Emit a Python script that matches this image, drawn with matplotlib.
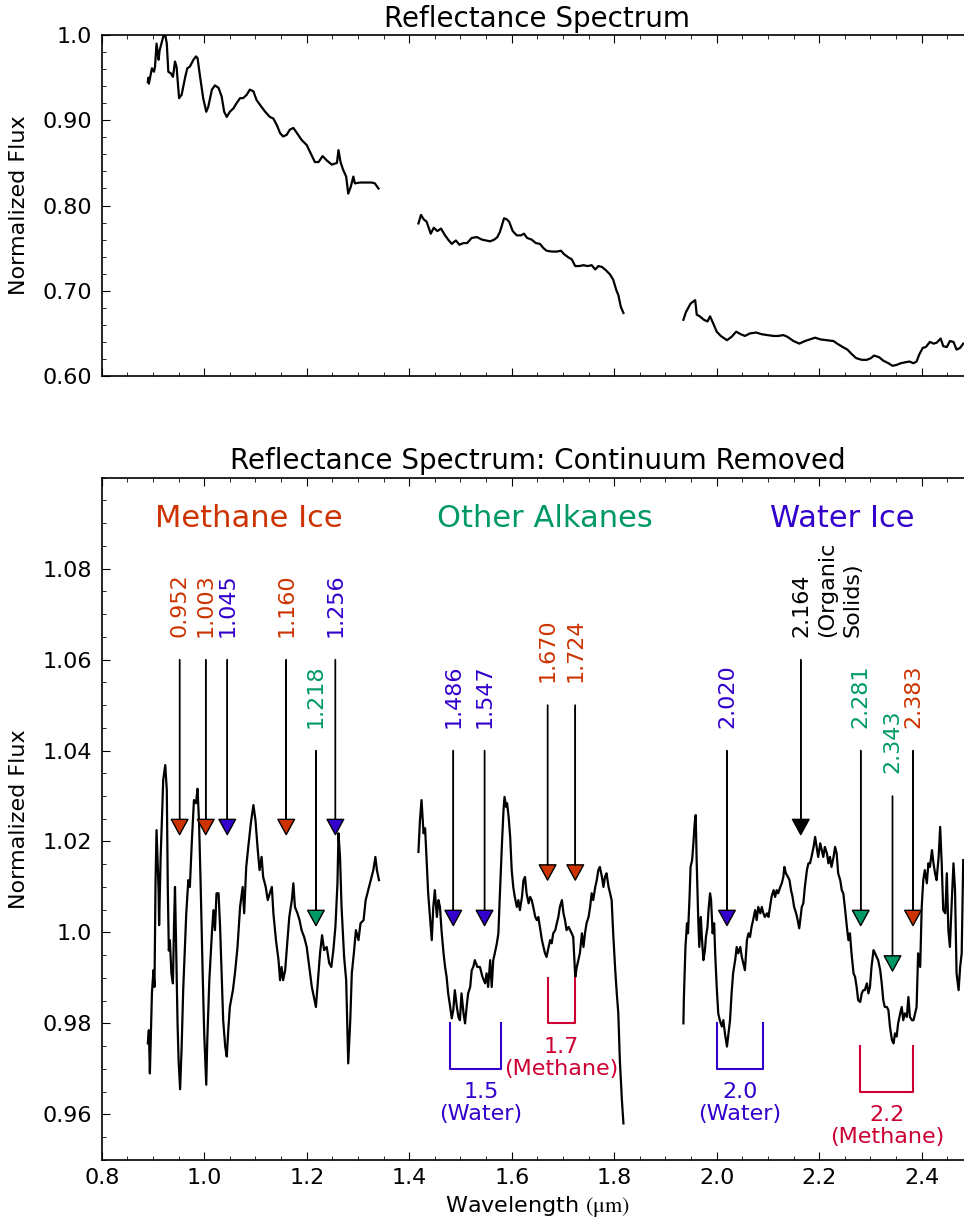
import matplotlib
matplotlib.use("Agg")
import matplotlib.pyplot as plt
from matplotlib.ticker import FixedLocator, FixedFormatter, MultipleLocator
from matplotlib.transforms import offset_copy


METHANE = "#cc3300"
ALKANE = "#009966"
WATER = "#3300cc"
METHANE_BAND = "#cc0033"
ORGANIC = "black"

# ---- raw reflectance spectrum (three windows) ----
RAW_WL_1 = [
    0.890, 0.891, 0.892, 0.898, 0.902, 0.904, 0.907, 0.911, 0.913, 0.920,
    0.924, 0.927, 0.930, 0.935, 0.939, 0.943, 0.946, 0.951, 0.956, 0.963,
    0.967, 0.972, 0.979, 0.984, 0.987, 0.992, 0.998, 1.004, 1.008, 1.015,
    1.021, 1.028, 1.034, 1.039, 1.044, 1.050, 1.057, 1.063, 1.070, 1.076,
    1.083, 1.089, 1.096, 1.102, 1.109, 1.119, 1.128, 1.135, 1.142, 1.148,
    1.154, 1.161, 1.167, 1.174, 1.181, 1.190, 1.200, 1.208, 1.216, 1.223,
    1.231, 1.239, 1.249, 1.259, 1.262, 1.266, 1.271, 1.277, 1.281, 1.286,
    1.291, 1.294, 1.304, 1.317, 1.327, 1.333, 1.340,
]
RAW_FLUX_1 = [
    0.945, 0.950, 0.943, 0.961, 0.957, 0.963, 0.990, 0.971, 0.982, 0.998,
    1.000, 0.990, 0.957, 0.955, 0.951, 0.969, 0.963, 0.926, 0.930, 0.951,
    0.961, 0.963, 0.971, 0.975, 0.973, 0.951, 0.926, 0.910, 0.916, 0.936,
    0.941, 0.938, 0.928, 0.910, 0.904, 0.910, 0.914, 0.920, 0.926, 0.926,
    0.930, 0.936, 0.934, 0.924, 0.918, 0.910, 0.904, 0.902, 0.894, 0.885,
    0.881, 0.883, 0.889, 0.891, 0.885, 0.877, 0.871, 0.861, 0.851, 0.851,
    0.858, 0.853, 0.848, 0.850, 0.865, 0.851, 0.842, 0.834, 0.814, 0.822,
    0.834, 0.826, 0.827, 0.827, 0.827, 0.826, 0.820,
]
RAW_WL_2 = [
    1.418, 1.423, 1.428, 1.434, 1.442, 1.448, 1.455, 1.462, 1.470, 1.476,
    1.483, 1.491, 1.498, 1.506, 1.513, 1.522, 1.532, 1.542, 1.550, 1.558,
    1.566, 1.572, 1.577, 1.582, 1.585, 1.590, 1.595, 1.602, 1.610, 1.618,
    1.624, 1.630, 1.639, 1.647, 1.655, 1.662, 1.668, 1.678, 1.688, 1.696,
    1.702, 1.711, 1.717, 1.724, 1.732, 1.740, 1.748, 1.756, 1.763, 1.769,
    1.776, 1.784, 1.792, 1.798, 1.804, 1.808, 1.813, 1.818,
]
RAW_FLUX_2 = [
    0.779, 0.789, 0.784, 0.781, 0.767, 0.774, 0.770, 0.773, 0.765, 0.760,
    0.755, 0.759, 0.754, 0.756, 0.756, 0.762, 0.763, 0.760, 0.759, 0.758,
    0.760, 0.763, 0.769, 0.779, 0.785, 0.784, 0.781, 0.770, 0.765, 0.765,
    0.767, 0.762, 0.760, 0.756, 0.755, 0.750, 0.747, 0.746, 0.746, 0.747,
    0.743, 0.739, 0.737, 0.729, 0.729, 0.730, 0.729, 0.730, 0.725, 0.729,
    0.728, 0.724, 0.719, 0.713, 0.701, 0.695, 0.681, 0.674,
]
RAW_WL_3 = [
    1.935, 1.940, 1.949, 1.958, 1.961, 1.967, 1.975, 1.982, 1.987, 1.993,
    2.000, 2.008, 2.020, 2.029, 2.038, 2.047, 2.055, 2.065, 2.077, 2.088,
    2.099, 2.111, 2.120, 2.130, 2.138, 2.150, 2.161, 2.172, 2.182, 2.192,
    2.202, 2.215, 2.228, 2.235, 2.246, 2.255, 2.263, 2.272, 2.283, 2.293,
    2.301, 2.307, 2.317, 2.325, 2.335, 2.343, 2.351, 2.359, 2.367, 2.376,
    2.384, 2.390, 2.395, 2.402, 2.408, 2.416, 2.423, 2.429, 2.437, 2.442,
    2.449, 2.455, 2.462, 2.468, 2.475, 2.481,
]
RAW_FLUX_3 = [
    0.666, 0.675, 0.685, 0.689, 0.672, 0.670, 0.666, 0.664, 0.670, 0.662,
    0.652, 0.647, 0.642, 0.646, 0.652, 0.649, 0.647, 0.650, 0.651, 0.649,
    0.648, 0.647, 0.647, 0.648, 0.646, 0.641, 0.638, 0.641, 0.643, 0.645,
    0.643, 0.642, 0.641, 0.638, 0.634, 0.631, 0.626, 0.621, 0.619, 0.619,
    0.621, 0.624, 0.622, 0.618, 0.615, 0.612, 0.613, 0.615, 0.616, 0.617,
    0.615, 0.617, 0.625, 0.633, 0.634, 0.640, 0.638, 0.639, 0.644, 0.635,
    0.634, 0.641, 0.640, 0.631, 0.633, 0.638,
]

# ---- continuum-removed spectrum ----
CR_WL_1 = [
    0.890, 0.892, 0.894, 0.898, 0.901, 0.903, 0.905, 0.907, 0.911, 0.912,
    0.915, 0.918, 0.920, 0.924, 0.927, 0.929, 0.931, 0.933, 0.936, 0.939,
    0.941, 0.943, 0.945, 0.948, 0.950, 0.953, 0.956, 0.959, 0.965, 0.969,
    0.972, 0.976, 0.980, 0.984, 0.987, 0.990, 0.993, 0.997, 1.000, 1.004,
    1.006, 1.010, 1.015, 1.018, 1.021, 1.024, 1.028, 1.031, 1.034, 1.037,
    1.041, 1.044, 1.047, 1.050, 1.056, 1.060, 1.065, 1.070, 1.075, 1.078,
    1.082, 1.086, 1.091, 1.096, 1.100, 1.104, 1.108, 1.112, 1.115, 1.120,
    1.124, 1.128, 1.132, 1.135, 1.140, 1.145, 1.148, 1.151, 1.154, 1.158,
    1.162, 1.166, 1.171, 1.174, 1.177, 1.182, 1.186, 1.190, 1.195, 1.200,
    1.205, 1.210, 1.214, 1.218, 1.223, 1.226, 1.230, 1.234, 1.239, 1.244,
    1.248, 1.252, 1.256, 1.260, 1.262, 1.265, 1.268, 1.273, 1.277, 1.281,
    1.285, 1.288, 1.292, 1.296, 1.301, 1.305, 1.311, 1.315, 1.320, 1.325,
    1.330, 1.334, 1.337, 1.341,
]
CR_FLUX_1 = [
    0.9756, 0.9785, 0.9690, 0.9866, 0.9917, 0.9880, 1.0108, 1.0225, 1.0093, 1.0016,
    1.0166, 1.0265, 1.0335, 1.0368, 1.0313, 1.0093, 0.9960, 0.9983, 0.9910, 0.9888,
    1.0012, 1.0100, 0.9983, 0.9800, 0.9719, 0.9655, 0.9749, 0.9873, 1.0042, 1.0115,
    1.0100, 1.0203, 1.0291, 1.0284, 1.0316, 1.0240, 1.0108, 0.9910, 0.9778, 0.9665,
    0.9763, 0.9895, 0.9998, 1.0049, 1.0005, 1.0086, 1.0086, 1.0012, 0.9910, 0.9807,
    0.9749, 0.9727, 0.9785, 0.9836, 0.9873, 0.9910, 0.9968, 1.0056, 1.0100, 1.0042,
    1.0144, 1.0188, 1.0240, 1.0280, 1.0247, 1.0188, 1.0137, 1.0166, 1.0122, 1.0100,
    1.0071, 1.0086, 1.0100, 1.0042, 0.9983, 0.9939, 0.9895, 0.9924, 0.9895, 0.9917,
    0.9976, 1.0034, 1.0071, 1.0108, 1.0056, 1.0042, 1.0027, 1.0005, 0.9990, 0.9968,
    0.9924, 0.9880, 0.9858, 0.9836, 0.9910, 0.9954, 0.9994, 0.9961, 0.9968, 0.9932,
    0.9924, 0.9961, 1.0012, 1.0108, 1.0218, 1.0166, 1.0056, 0.9946, 0.9895, 0.9712,
    0.9807, 0.9910, 0.9954, 1.0005, 0.9983, 1.0020, 1.0027, 1.0071, 1.0093, 1.0115,
    1.0137, 1.0166, 1.0137, 1.0115,
]
CR_WL_2 = [
    1.418, 1.421, 1.424, 1.428, 1.431, 1.434, 1.437, 1.441, 1.444, 1.447,
    1.450, 1.454, 1.457, 1.460, 1.463, 1.467, 1.470, 1.473, 1.476, 1.480,
    1.483, 1.486, 1.489, 1.493, 1.496, 1.499, 1.502, 1.506, 1.509, 1.512,
    1.515, 1.519, 1.522, 1.525, 1.528, 1.533, 1.538, 1.543, 1.548, 1.551,
    1.554, 1.558, 1.561, 1.564, 1.567, 1.571, 1.574, 1.577, 1.581, 1.584,
    1.586, 1.589, 1.591, 1.594, 1.597, 1.600, 1.603, 1.606, 1.610, 1.613,
    1.616, 1.620, 1.623, 1.626, 1.629, 1.633, 1.636, 1.639, 1.642, 1.646,
    1.649, 1.652, 1.655, 1.659, 1.662, 1.665, 1.668, 1.672, 1.675, 1.678,
    1.681, 1.685, 1.688, 1.691, 1.694, 1.698, 1.701, 1.704, 1.707, 1.711,
    1.714, 1.717, 1.720, 1.724, 1.727, 1.730, 1.733, 1.737, 1.740, 1.743,
    1.746, 1.750, 1.753, 1.756, 1.759, 1.763, 1.766, 1.769, 1.772, 1.776,
    1.779, 1.782, 1.785, 1.789, 1.792, 1.795, 1.798, 1.802, 1.805, 1.808,
    1.811, 1.815, 1.818,
]
CR_FLUX_2 = [
    1.0177, 1.0247, 1.0291, 1.0218, 1.0229, 1.0159, 1.0086, 1.0027, 0.9983, 1.0056,
    1.0093, 1.0034, 1.0071, 1.0056, 1.0005, 0.9954, 0.9924, 0.9902, 0.9866, 0.9836,
    0.9811, 0.9829, 0.9873, 0.9836, 0.9814, 0.9807, 0.9866, 0.9822, 0.9800, 0.9836,
    0.9866, 0.9880, 0.9917, 0.9924, 0.9939, 0.9924, 0.9924, 0.9902, 0.9888, 0.9910,
    0.9880, 0.9939, 0.9880, 0.9939, 0.9954, 0.9976, 0.9998, 1.0086, 1.0196, 1.0269,
    1.0298, 1.0276, 1.0284, 1.0254, 1.0210, 1.0137, 1.0100, 1.0078, 1.0056, 1.0071,
    1.0049, 1.0078, 1.0115, 1.0122, 1.0086, 1.0064, 1.0078, 1.0071, 1.0056, 1.0034,
    1.0027, 1.0034, 1.0012, 0.9983, 0.9968, 0.9954, 0.9946, 0.9968, 0.9983, 0.9976,
    0.9998, 1.0005, 1.0020, 1.0034, 1.0056, 1.0071, 1.0042, 1.0027, 1.0005, 1.0012,
    1.0005, 0.9998, 0.9990, 0.9902, 0.9924, 0.9939, 0.9954, 0.9998, 0.9968, 0.9998,
    1.0020, 1.0034, 1.0056, 1.0086, 1.0071, 1.0100, 1.0115, 1.0137, 1.0144, 1.0122,
    1.0100, 1.0122, 1.0130, 1.0100, 1.0086, 1.0071, 0.9998, 0.9917, 0.9866, 0.9822,
    0.9719, 0.9631, 0.9580,
]
CR_WL_3 = [
    1.935, 1.936, 1.939, 1.942, 1.944, 1.947, 1.949, 1.952, 1.954, 1.957,
    1.959, 1.961, 1.964, 1.966, 1.969, 1.971, 1.974, 1.977, 1.979, 1.982,
    1.984, 1.987, 1.989, 1.992, 1.995, 1.997, 2.000, 2.003, 2.006, 2.010,
    2.013, 2.016, 2.020, 2.023, 2.026, 2.029, 2.032, 2.036, 2.039, 2.042,
    2.046, 2.049, 2.052, 2.055, 2.059, 2.062, 2.065, 2.068, 2.071, 2.075,
    2.078, 2.081, 2.085, 2.088, 2.091, 2.094, 2.098, 2.101, 2.104, 2.107,
    2.111, 2.114, 2.117, 2.120, 2.124, 2.127, 2.130, 2.132, 2.135, 2.139,
    2.142, 2.145, 2.148, 2.151, 2.155, 2.158, 2.161, 2.163, 2.166, 2.169,
    2.172, 2.176, 2.179, 2.182, 2.185, 2.189, 2.192, 2.195, 2.198, 2.202,
    2.205, 2.208, 2.211, 2.215, 2.218, 2.221, 2.224, 2.228, 2.231, 2.234,
    2.237, 2.241, 2.244, 2.247, 2.250, 2.254, 2.257, 2.260, 2.263, 2.267,
    2.270, 2.273, 2.276, 2.280, 2.283, 2.286, 2.289, 2.293, 2.296, 2.299,
    2.302, 2.306, 2.309, 2.312, 2.315, 2.319, 2.322, 2.325, 2.328, 2.332,
    2.335, 2.338, 2.342, 2.345, 2.348, 2.351, 2.354, 2.358, 2.361, 2.364,
    2.367, 2.371, 2.374, 2.377, 2.381, 2.384, 2.387, 2.390, 2.393, 2.397,
    2.400, 2.403, 2.406, 2.410, 2.413, 2.416, 2.420, 2.423, 2.426, 2.429,
    2.433, 2.436, 2.439, 2.442, 2.446, 2.449, 2.452, 2.455, 2.459, 2.462,
    2.465, 2.468, 2.472, 2.475, 2.478, 2.481,
]
CR_FLUX_3 = [
    0.9800, 0.9858, 0.9968, 1.0020, 0.9998, 1.0078, 1.0144, 1.0159, 1.0188, 1.0240,
    1.0258, 1.0152, 1.0027, 0.9968, 1.0034, 0.9990, 0.9939, 0.9961, 0.9990, 1.0012,
    1.0049, 1.0086, 1.0071, 0.9998, 1.0020, 0.9954, 0.9880, 0.9822, 0.9807, 0.9793,
    0.9807, 0.9778, 0.9749, 0.9778, 0.9807, 0.9866, 0.9910, 0.9939, 0.9968, 0.9954,
    0.9968, 0.9946, 0.9932, 0.9917, 0.9983, 0.9998, 0.9990, 1.0012, 1.0027, 1.0049,
    1.0027, 1.0056, 1.0042, 1.0056, 1.0042, 1.0034, 1.0042, 1.0034, 1.0056, 1.0078,
    1.0093, 1.0078, 1.0093, 1.0086, 1.0100, 1.0108, 1.0122, 1.0144, 1.0130, 1.0122,
    1.0115, 1.0093, 1.0078, 1.0056, 1.0042, 1.0027, 1.0009, 1.0027, 1.0056, 1.0064,
    1.0100, 1.0137, 1.0152, 1.0152, 1.0166, 1.0188, 1.0210, 1.0188, 1.0166, 1.0196,
    1.0181, 1.0166, 1.0188, 1.0174, 1.0152, 1.0166, 1.0144, 1.0166, 1.0188, 1.0174,
    1.0130, 1.0115, 1.0093, 1.0086, 1.0056, 1.0012, 0.9983, 0.9998, 0.9954, 0.9910,
    0.9902, 0.9880, 0.9851, 0.9847, 0.9866, 0.9873, 0.9873, 0.9888, 0.9866, 0.9880,
    0.9924, 0.9961, 0.9954, 0.9946, 0.9939, 0.9917, 0.9888, 0.9851, 0.9836, 0.9836,
    0.9829, 0.9793, 0.9763, 0.9756, 0.9778, 0.9771, 0.9800, 0.9822, 0.9836, 0.9807,
    0.9822, 0.9814, 0.9858, 0.9814, 0.9807, 0.9807, 0.9822, 0.9836, 0.9954, 0.9924,
    1.0056, 1.0115, 1.0137, 1.0108, 1.0152, 1.0144, 1.0181, 1.0152, 1.0130, 1.0115,
    1.0166, 1.0232, 1.0152, 1.0049, 1.0042, 1.0130, 1.0005, 0.9968, 1.0078, 1.0152,
    1.0093, 0.9910, 0.9873, 0.9924, 0.9954, 1.0159,
]

# ---- absorption features ----
FEATURE_WL = [0.952, 1.003, 1.045, 1.160, 1.256, 1.218, 1.486, 1.547,
              1.670, 1.724, 2.020, 2.164, 2.281, 2.343, 2.383]
FEATURE_LABELS = ["0.952", "1.003", "1.045", "1.160", "1.256", "1.218",
                  "1.486", "1.547", "1.670", "1.724", "2.020",
                  "2.164\n(Organic\nSolids)", "2.281", "2.343", "2.383"]
FEATURE_KIND = ["methane", "methane", "water", "methane", "water", "alkane",
                "water", "water", "methane", "methane", "water", "organic",
                "alkane", "alkane", "methane"]

BAND_EDGES = [(1.48, 1.58), (1.67, 1.724), (2.00, 2.09), (2.28, 2.383)]
BAND_LABELS = ["1.5\n(Water)", "1.7\n(Methane)", "2.0\n(Water)", "2.2\n(Methane)"]
BAND_KIND = ["water", "methane", "water", "methane"]

GROUP_LABELS = ["Methane Ice", "Other Alkanes", "Water Ice"]

RAW_YTICKS = [0.60, 0.70, 0.80, 0.90, 1.0]
RAW_YTICK_LABELS = ["0.60", "0.70", "0.80", "0.90", "1.0"]
CR_YTICKS = [0.96, 0.98, 1.0, 1.02, 1.04, 1.06, 1.08]
CR_YTICK_LABELS = ["0.96", "0.98", "1.0", "1.02", "1.04", "1.06", "1.08"]

# layout (arrow levels: text bottom, arrow start, arrow tip)
ARROW_LEVELS = [
    (1.065, 1.060, 1.0215), (1.065, 1.060, 1.0215), (1.065, 1.060, 1.0215),
    (1.065, 1.060, 1.0215), (1.065, 1.060, 1.0215), (1.045, 1.040, 1.0015),
    (1.045, 1.040, 1.0015), (1.045, 1.040, 1.0015), (1.055, 1.050, 1.0115),
    (1.055, 1.050, 1.0115), (1.045, 1.040, 1.0015), (1.065, 1.060, 1.0215),
    (1.045, 1.040, 1.0015), (1.035, 1.030, 0.9915), (1.045, 1.040, 1.0015),
]
BAND_LEVELS = [(0.980, 0.970), (0.990, 0.980), (0.980, 0.970), (0.975, 0.965)]
BAND_TEXT_X = [1.54, 1.697, 2.045, 2.332]
GROUP_X = [1.087, 1.665, 2.245]
GROUP_Y = 1.091

KIND_COLORS = {"methane": METHANE, "water": WATER, "alkane": ALKANE,
               "organic": ORGANIC}
BAND_COLORS = {"methane": METHANE_BAND, "water": WATER}
GROUP_COLORS = [METHANE, ALKANE, WATER]

plt.rcParams.update({
    "font.family": "DejaVu Sans",
    "font.size": 16,
    "mathtext.fontset": "stix",
    "axes.linewidth": 1.2,
    "xtick.direction": "in",
    "ytick.direction": "in",
    "xtick.top": True,
    "ytick.right": True,
    "xtick.major.size": 6,
    "ytick.major.size": 6,
    "xtick.minor.size": 3,
    "ytick.minor.size": 3,
    "xtick.major.pad": 6,
    "ytick.major.pad": 7,
})


def style_axis(ax, yticks, ylabels, yminor):
    ax.set_xlim(0.8, 2.5)
    ax.xaxis.set_major_locator(MultipleLocator(0.2))
    ax.xaxis.set_minor_locator(MultipleLocator(0.05))
    ax.yaxis.set_major_locator(FixedLocator(yticks))
    ax.yaxis.set_major_formatter(FixedFormatter(ylabels))
    ax.yaxis.set_minor_locator(MultipleLocator(yminor))
    ax.set_ylabel("Normalized Flux")
    ax.yaxis.set_label_coords(-0.083, 0.5)


def main() -> None:
    fig = plt.figure(figsize=(9.64, 12.26), dpi=100)
    ax_raw = fig.add_axes([0.1055, 0.6933, 0.9038, 0.2781])
    ax_cr = fig.add_axes([0.1055, 0.0540, 0.9038, 0.5564])

    # top: raw spectrum
    for wl, flux in [(RAW_WL_1, RAW_FLUX_1), (RAW_WL_2, RAW_FLUX_2),
                     (RAW_WL_3, RAW_FLUX_3)]:
        ax_raw.plot(wl, flux, color="black", lw=1.6)
    style_axis(ax_raw, RAW_YTICKS, RAW_YTICK_LABELS, 0.02)
    ax_raw.set_ylim(0.6, 1.0)
    ax_raw.tick_params(labelbottom=False)
    ax_raw.set_title("Reflectance Spectrum", fontsize=20, pad=6)

    # bottom: continuum removed
    for wl, flux in [(CR_WL_1, CR_FLUX_1), (CR_WL_2, CR_FLUX_2),
                     (CR_WL_3, CR_FLUX_3)]:
        ax_cr.plot(wl, flux, color="black", lw=1.6)
    style_axis(ax_cr, CR_YTICKS, CR_YTICK_LABELS, 0.005)
    ax_cr.set_ylim(0.95, 1.10)
    ax_cr.set_xlabel(r"Wavelength $(\mathrm{\mu m})$")
    ax_cr.set_title("Reflectance Spectrum: Continuum Removed", fontsize=20, pad=6)

    for label, x, color in zip(GROUP_LABELS, GROUP_X, GROUP_COLORS):
        ax_cr.text(x, GROUP_Y, label, color=color, fontsize=22,
                   ha="center", va="center")

    shifted = offset_copy(ax_cr.transData, fig=fig, x=-6.5, units="points")
    for wl, label, kind, (text_y, start_y, tip_y) in zip(
        FEATURE_WL, FEATURE_LABELS, FEATURE_KIND, ARROW_LEVELS
    ):
        color = KIND_COLORS[kind]
        ax_cr.annotate(
            "", xy=(wl, tip_y), xytext=(wl, start_y),
            arrowprops=dict(facecolor=color, edgecolor="black", width=0.1,
                            headwidth=12, headlength=11, shrink=0, lw=1),
        )
        if "\n" in label:
            ax_cr.text(wl, text_y, label, color=color, rotation=90,
                       ha="left", va="bottom", linespacing=1.35,
                       transform=shifted)
        else:
            ax_cr.text(wl, text_y, label, color=color, rotation=90,
                       ha="center", va="bottom")

    for (x0, x1), label, kind, (top, bottom), tx in zip(
        BAND_EDGES, BAND_LABELS, BAND_KIND, BAND_LEVELS, BAND_TEXT_X
    ):
        color = BAND_COLORS[kind]
        ax_cr.plot([x0, x0, x1, x1], [top, bottom, bottom, top],
                   color=color, lw=1.5)
        ax_cr.text(tx, bottom - 0.003, label, color=color, ha="center",
                   va="top", multialignment="center", linespacing=1.1)

    fig.savefig("out.png", dpi=100)


if __name__ == "__main__":
    main()
